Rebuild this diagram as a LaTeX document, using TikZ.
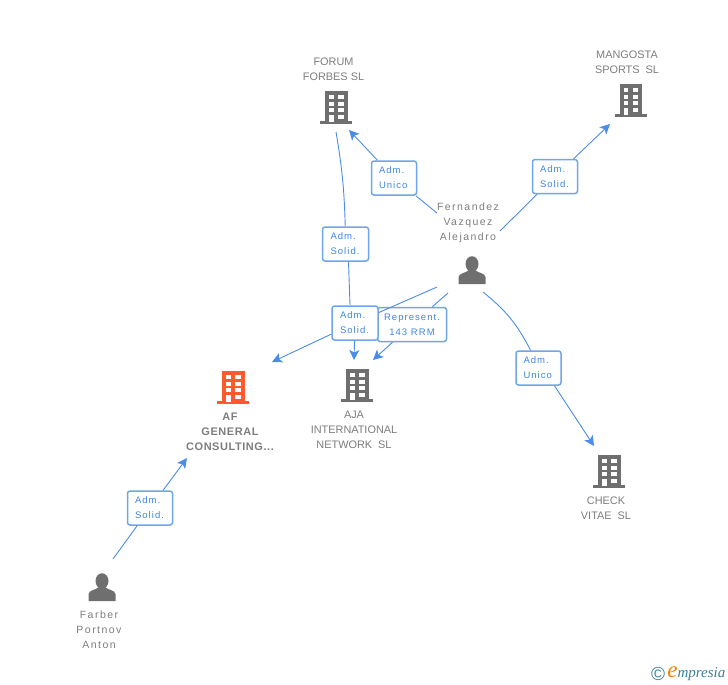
\documentclass[tikz,border=0pt]{standalone}
\usepackage{fontspec}
\setmainfont{Liberation Sans}
\newfontfamily\wideface[LetterSpace=14]{Liberation Sans}
\newfontfamily\boxface[LetterSpace=11]{Liberation Sans}
\newfontfamily\heavyface[LetterSpace=5]{Liberation Sans}
\newfontfamily\markface{Liberation Serif}
\usetikzlibrary{arrows.meta,positioning}
\definecolor{linkblue}{HTML}{4A8CE8}
\definecolor{boxblue}{HTML}{6FA5EA}
\definecolor{tagText}{HTML}{3F86E6}
\definecolor{iconGray}{HTML}{6F6F6F}
\definecolor{textGray}{HTML}{7D7D7D}
\definecolor{afOrange}{HTML}{FF5A2B}
\definecolor{markBlue}{HTML}{3F7F96}
\tikzset{
  building/.pic={
    \fill[pic actions] (-11,-17) rectangle (11.5,16);
    \fill[pic actions] (-16,13) rectangle (16,16);
    \foreach \y in {-13,-6,0,7} {
      \fill[white] (-7,\y) rectangle (-2.5,\y+4);
      \fill[white] (2,\y) rectangle (7.5,\y+4);
    }
    \fill[white] (-7,7) rectangle (-2.5,14);
  },
  person/.pic={
    \fill[iconGray] (0,-7) ellipse (6.5 and 7.8);
    \fill[iconGray] (-13.5,13) -- (-13.5,6) .. controls (-13,2) and (-6,2) .. (-3,-1)
      -- (3,-1) .. controls (6,2) and (13,2) .. (13.5,6) -- (13.5,13) -- cycle;
  },
  spot/.style={inner sep=0pt,minimum size=2pt},
  firm/.style={text=textGray,font=\fontsize{10.9}{15}\selectfont,align=center,inner sep=0pt},
  who/.style={text=textGray,font=\fontsize{10.5}{15}\wideface,align=center,inner sep=0pt},
  tag/.style={draw=boxblue,line width=1.5pt,rounded corners=2.5pt,fill=white,text=tagText,
    font=\fontsize{9.5}{15}\boxface,align=left,inner sep=0pt,minimum height=34pt},
  link/.style={color=linkblue,line width=0.9pt},
  linktip/.style={link,-{Stealth[length=10pt,width=10pt,inset=2.5pt]}}
}
\begin{document}
\begin{tikzpicture}[x=1pt,y=-1pt]
\useasboundingbox (0,0) rectangle (728,685);
% companies
\node (forum) [spot] at (336,108) {};
\node (mangosta) [spot] at (630.5,101) {};
\node (aja) [spot] at (357,386) {};
\node (af) [spot] at (233,388) {};
\node (check) [spot] at (609,472) {};
\pic [fill=iconGray] at (forum) {building};
\pic [fill=iconGray] at (mangosta) {building};
\pic [fill=iconGray] at (aja) {building};
\pic [fill=afOrange] at (af) {building};
\pic [fill=iconGray] at (check) {building};
% people
\node (fernandez) [spot] at (472,271) {};
\node (farber) [spot] at (102,588) {};
\pic at (fernandez) {person};
\pic at (farber) {person};
% names
\node (forumName) [firm] at (333.5,69) {FORUM\\FORBES SL};
\node (mangostaName) [firm] at (627,62.5) {MANGOSTA\\SPORTS\ \ SL};
\node (ajaName) [firm] at (354,430) {AJA\\INTERNATIONAL\\NETWORK\ \ SL};
\node (afName) [firm,font=\fontsize{11}{15}\heavyface\bfseries] at (230,431.5) {AF\\GENERAL\\CONSULTING...};
\node (checkName) [firm] at (606,508) {CHECK\\VITAE\ \ SL};
\node (fernandezName) [who] at (468,223) {Fernandez\\Vazquez\\Alejandro};
\node (farberName) [who] at (99,630) {Farber\\Portnov\\Anton};
% free ends
\coordinate (forumFrom) at (437,213);
\coordinate (forumTip) at (349,130);
\coordinate (mangostaFrom) at (500,231);
\coordinate (mangostaTip) at (610,124);
\coordinate (checkFrom) at (483,292);
\coordinate (checkTip) at (594,446);
\coordinate (ajaFrom) at (336,132);
\coordinate (ajaTip) at (354,360);
\coordinate (afFrom) at (437,287);
\coordinate (afTip) at (272,362);
\coordinate (repFrom) at (448,293);
\coordinate (repTip) at (373,360);
\coordinate (farberFrom) at (113,559);
\coordinate (farberTip) at (187,458);
% labels
\node (tagRep) [tag,align=center,minimum width=69pt] at (412,324.5) {Represent.\\143 RRM};
\node (tagForum) [tag,minimum width=45pt,text width=30pt] at (394,178) {Adm.\\Unico};
\node (tagMangosta) [tag,minimum width=45pt,text width=30pt] at (555,176.5) {Adm.\\Solid.};
\node (tagCheck) [tag,minimum width=45pt,text width=30pt] at (538.5,368) {Adm.\\Unico};
\node (tagAja) [tag,minimum width=46pt,text width=30pt] at (345.5,244) {Adm.\\Solid.};
\node (tagAf) [tag,minimum width=46pt,text width=30pt] at (355,323) {Adm.\\Solid.};
\node (tagFarber) [tag,minimum width=45pt,text width=30pt] at (150,508) {Adm.\\Solid.};
% connectors
\path[link] (forumFrom) edge (tagForum);
\path[linktip] (tagForum) edge (forumTip);
\path[link] (mangostaFrom) edge (tagMangosta);
\path[linktip] (tagMangosta) edge (mangostaTip);
\path[link,bend left=12] (checkFrom) edge (tagCheck);
\path[linktip] ([xshift=16pt]tagCheck.south) edge (checkTip);
\path[link,bend left=4] (ajaFrom) edge (tagAja);
\path[link] ([xshift=3pt]tagAja.south) edge ([xshift=-5pt]tagAf.north);
\path[linktip] (tagAf) edge (ajaTip);
\path[link] (afFrom) edge (tagAf);
\path[linktip] (tagAf) edge (afTip);
\path[link] (repFrom) edge (tagRep);
\path[linktip] (tagRep) edge (repTip);
\path[link] (farberFrom) edge (tagFarber);
\path[linktip] (tagFarber) edge (farberTip);
% watermark
\node (copyMark) [text=markBlue,font=\fontsize{19}{19}\selectfont,inner sep=0pt] at (658,674) {©};
\node (brandMark) [right=2pt of copyMark,inner sep=0pt,text=markBlue,font=\fontsize{15}{15}\markface\itshape]
  {\textcolor{orange}{\fontsize{23}{23}\selectfont e}mpresia};
\end{tikzpicture}
\end{document}
